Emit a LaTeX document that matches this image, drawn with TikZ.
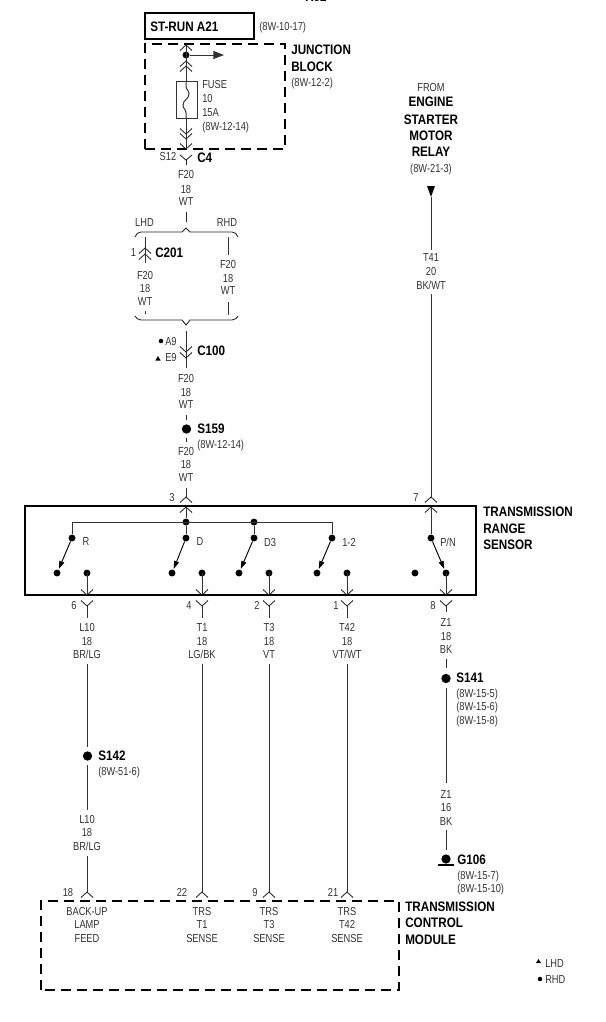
\documentclass[tikz,border=0pt]{standalone}
\usepackage{fontspec}
\setmainfont{Liberation Sans}
\newfontfamily\narrow[FakeStretch=0.8]{Liberation Sans}
\newfontfamily\narrowb[FakeStretch=0.85]{Liberation Sans Bold}
\usetikzlibrary{arrows.meta,shapes.geometric}
\tikzset{
  small/.style={inner sep=0pt,font=\narrow\fontsize{8.7pt}{9pt}\selectfont,text=black!80},
  smallc/.style={small,anchor=center,align=center},
  smallw/.style={small,anchor=west},
  big/.style={inner sep=0pt,anchor=west,font=\narrowb\fontsize{10.3pt}{11pt}\selectfont},
  wire/.style={line width=0.75pt,black!80},
  thin wire/.style={line width=0.65pt,black!85},
  chev/.style={line width=0.65pt,black!85},
  dashbox/.style={line width=1.5pt,dash pattern=on 7.5pt off 4.5pt},
  solidbox/.style={line width=1.5pt},
  pt/.style={circle,fill=black,inner sep=0pt,minimum size=5.2pt},
  bigpt/.style={circle,fill=black,inner sep=0pt,minimum size=7pt},
  sw/.style={line width=0.7pt,-{Triangle[length=6pt,width=3.8pt]},shorten >=0.5pt}
}
% chevrons: \upc{x}{y apex}, \dnc{x}{y apex}
\newcommand{\upc}[2]{\draw[chev] (#1-6,#2+5.5) -- (#1,#2) -- (#1+6,#2+5.5);}
\newcommand{\dnc}[2]{\draw[chev] (#1-6,#2-5.5) -- (#1,#2) -- (#1+6,#2-5.5);}
\newcommand{\tl}[4]{\node[smallc] (#1) at (#2,#3) {#4};}
\newcommand{\wl}[4]{\node[smallw] (#1) at (#2,#3) {#4};}
\newcommand{\bl}[4]{\node[big] (#1) at (#2,#3) {#4};}
\begin{document}
\begin{tikzpicture}[x=0.75pt,y=-0.75pt]
\useasboundingbox (0,0) rectangle (606,1022);
\fill[white] (0,0) rectangle (606,1022);

% Top clipped text
\begin{scope}
\clip (0,0) rectangle (606,1022);
\node[big,anchor=center] (topref) at (316,-3) {R02};
\end{scope}

% ---- ST-RUN / junction block
\node[draw,solidbox,minimum width=81.75pt,minimum height=19.5pt,inner sep=0pt] (strun) at (199.5,26) {};
\bl{struntxt}{150}{27}{ST-RUN A21}
\wl{strunref}{259}{27}{(8W-10-17)}
\draw[dashbox] (145,149) -- (145,44) -- (285,44) -- (285,149) -- cycle;
\bl{jb1}{291}{50}{JUNCTION}
\bl{jb2}{291}{67}{BLOCK}
\wl{jb3}{291}{83}{(8W-12-2)}

\coordinate (jtop) at (186,45);
\node[pt] (jdot) at (186,55) {};
\coordinate (jarrow) at (224,55);
\coordinate (jbot) at (186,149);
\node[draw,line width=0.6pt,black!80,minimum width=15.75pt,minimum height=27.75pt,inner sep=0pt] (fuse) at (186.5,99.5) {};
\draw[wire] (jtop) -- (186,81);
\draw[wire] (186,118) -- (jbot);
\draw[wire,-{Triangle[length=8pt,width=6pt]}] (jdot) -- (jarrow);
\draw[wire] (186,81) -- (186,86) .. controls (186,90) and (189,90) .. (189,94) .. controls (189,99) and (183,100) .. (183,105) .. controls (183,109) and (186,109) .. (186,113) -- (186,118);
\upc{186}{45}\upc{186}{61}\upc{186}{66}
\dnc{186}{134}\dnc{186}{139}\dnc{186}{149}
\wl{f1}{202}{85}{FUSE}\wl{f2}{202}{99}{10}\wl{f3}{202}{113}{15A}\wl{f4}{202}{127}{(8W-12-14)}

% C4
\coordinate (c4a) at (186,160);
\coordinate (c4b) at (186,165);
\draw[chev] (180,155) -- (c4a) -- (192,155);
\draw[chev] (c4a) -- (c4b);
\tl{s12}{168}{157}{S12}
\bl{c4}{197}{158}{C4}
\tl{w1a}{186}{175}{F20}\tl{w1b}{186}{189}{18}\tl{w1c}{186}{202}{WT}

% Brace top
\coordinate (w1t) at (186,212);
\coordinate (brt) at (186,228);
\draw[thin wire] (w1t) -- (186,222);
\draw[thin wire] (135,237) .. controls (136,234) and (138,232) .. (141,232) -- (182,232) -- (brt) -- (190,232) -- (232,232) .. controls (235,232) and (237,234) .. (238,237);
\tl{lhd}{144.5}{223}{LHD}\tl{rhd}{227}{223}{RHD}

% LHD branch
\coordinate (la) at (145,237);
\coordinate (lb) at (145,263);
\draw[wire] (la) -- (lb);
\upc{145}{248}\upc{145}{254}
\tl{c1n}{133.5}{253}{1}
\bl{c201}{155}{253}{C201}
\tl{w2a}{145}{275}{F20}\tl{w2b}{145}{288}{18}\tl{w2c}{145}{302}{WT}
\coordinate (lc) at (145,311);
\coordinate (ld) at (145,314);
\draw[wire] (lc) -- (ld);

% RHD branch
\coordinate (ra) at (228,237);
\coordinate (rb) at (228,255);
\coordinate (rc) at (228,302);
\coordinate (rd) at (228,315);
\draw[wire] (ra) -- (rb);
\draw[wire] (rc) -- (rd);
\tl{w3a}{228}{264}{F20}\tl{w3b}{228}{278}{18}\tl{w3c}{228}{291}{WT}

% Brace bottom
\draw[thin wire] (135,316) .. controls (136,318) and (138,320) .. (141,320) -- (182,320) -- (186,325) -- (190,320) -- (232,320) .. controls (235,320) and (237,318) .. (238,316);

% C100
\coordinate (c1a) at (186,331);
\coordinate (c1b) at (186,368);
\draw[wire] (c1a) -- (c1b);
\dnc{186}{352}\dnc{186}{358}
\node[circle,fill=black,inner sep=0pt,minimum size=3.4pt] (a9d) at (161,341) {};
\wl{a9}{165}{341}{A9}
\node[regular polygon,regular polygon sides=3,fill=black,inner sep=0pt,minimum size=4.5pt] (e9d) at (158,359) {};
\wl{e9}{165}{357}{E9}
\bl{c100}{197}{351}{C100}
\tl{w4a}{186}{378}{F20}\tl{w4b}{186}{392}{18}\tl{w4c}{186}{405}{WT}

% S159
\node[bigpt] (s159) at (186.5,429) {};
\coordinate (s1a) at (186.5,415);
\coordinate (s1b) at (186.5,442);
\draw[wire] (s1a) -- (186.5,420);
\draw[wire] (186.5,438) -- (s1b);
\bl{s159t}{197}{429}{S159}
\wl{s159r}{197}{445}{(8W-12-14)}
\tl{w5a}{186}{451}{F20}\tl{w5b}{186}{464}{18}\tl{w5c}{186}{478}{WT}

% Right feed
\tl{from}{431}{88}{FROM}
\node[big,anchor=center] (eng) at (431,102) {ENGINE};
\node[big,anchor=center] (sta) at (431,120) {STARTER};
\node[big,anchor=center] (mot) at (431,136) {MOTOR};
\node[big,anchor=center] (rel) at (431,152) {RELAY};
\tl{fromr}{431}{169}{(8W-21-3)}
\coordinate (ftop) at (431,186);
\coordinate (fmid) at (431,197);
\coordinate (fa) at (431,250);
\coordinate (fb) at (431,294);
\coordinate (fc) at (431,497);
\fill[black] (427,186) -- (435,186) -- (431,197) -- cycle;
\draw[wire] (fmid) -- (fa);
\draw[wire] (fb) -- (fc);
\tl{w6a}{431}{258}{T41}\tl{w6b}{431}{271}{20}\tl{w6c}{431}{285}{BK/WT}

% Sensor connectors above
\coordinate (in3) at (186,497);
\draw[wire] (186,488) -- (in3);
\upc{186}{497}\upc{186}{507}
\tl{n3}{172}{497}{3}
\upc{431}{497}\upc{431}{507}
\tl{n7}{416}{497}{7}

% TRS box
\node[draw,solidbox,minimum width=338.5pt,minimum height=66.5pt,inner sep=0pt] (trs) at (250.8,550.8) {};
\bl{t1}{483}{512}{TRANSMISSION}\bl{t2}{483}{529}{RANGE}\bl{t3}{483}{545}{SENSOR}

% Switches
\node[pt] (j1) at (186,522) {};
\node[pt] (j2) at (254,522) {};
\node[pt] (rt) at (72,538) {};
\node[pt] (dt) at (186,538) {};
\node[pt] (d3t) at (254,538) {};
\node[pt] (ot) at (332,538) {};
\node[pt] (pt5) at (431,538) {};
\node[pt] (rl) at (57,573) {};   \node[pt] (rr) at (87,573) {};
\node[pt] (dl) at (172,573) {};  \node[pt] (dr) at (202,573) {};
\node[pt] (d3l) at (239,573) {}; \node[pt] (d3r) at (269,573) {};
\node[pt] (ol) at (317,573) {};  \node[pt] (or) at (347,573) {};
\node[pt] (pl) at (415,573) {};  \node[pt] (pr) at (446,573) {};
\draw[wire] (186,507) -- (j1) -- (dt);
\draw[wire] (rt) -- (72,522) -- (332,522) -- (ot);
\draw[wire] (j2) -- (d3t);
\draw[wire] (431,507) -- (pt5);
\draw[sw] (rt) -- (rl);
\draw[sw] (dt) -- (dl);
\draw[sw] (d3t) -- (d3l);
\draw[sw] (ot) -- (ol);
\draw[sw] (pt5) -- (pr);
\tl{lr}{86}{542}{R}\tl{ld2}{200}{542}{D}\tl{ld3}{270}{542}{D3}\tl{l12}{349}{542}{1-2}\tl{lpn}{448}{542}{P/N}

% Output connectors and wires
\coordinate (o1) at (87,606);   \coordinate (o1e) at (87,618);
\coordinate (o2) at (202,606);  \coordinate (o2e) at (202,618);
\coordinate (o3) at (269,606);  \coordinate (o3e) at (269,618);
\coordinate (o4) at (347,606);  \coordinate (o4e) at (347,618);
\coordinate (o5) at (446,606);  \coordinate (o5e) at (446,612);
\foreach \x in {87,202,269,347,446}{
  \draw[wire] (\x,573) -- (\x,595);
  \dnc{\x}{595}\dnc{\x}{606}
}
\draw[wire] (o1) -- (o1e); \draw[wire] (o2) -- (o2e);
\draw[wire] (o3) -- (o3e); \draw[wire] (o4) -- (o4e);
\draw[wire] (o5) -- (o5e);
\tl{n6}{74}{605}{6}\tl{n4}{189}{605}{4}\tl{n2}{257}{605}{2}\tl{n1}{336}{605}{1}\tl{n8}{433}{605}{8}
\tl{x1a}{87}{627}{L10}\tl{x1b}{87}{641}{18}\tl{x1c}{87}{654}{BR/LG}
\tl{x2a}{202}{627}{T1}\tl{x2b}{202}{641}{18}\tl{x2c}{202}{654}{LG/BK}
\tl{x3a}{269}{627}{T3}\tl{x3b}{269}{641}{18}\tl{x3c}{269}{654}{VT}
\tl{x4a}{347}{627}{T42}\tl{x4b}{347}{641}{18}\tl{x4c}{347}{654}{VT/WT}
\tl{x5a}{446}{622}{Z1}\tl{x5b}{446}{636}{18}\tl{x5c}{446}{649}{BK}

% L10 run
\node[bigpt] (s142) at (87.5,756) {};
\coordinate (l1a) at (87.5,664);
\coordinate (l1a2) at (87.5,747);
\coordinate (l1b2) at (87.5,765);
\coordinate (l1b) at (87.5,810);
\coordinate (l1c) at (87.5,856);
\coordinate (l1d) at (87.5,892);
\draw[wire] (l1a) -- (l1a2);
\draw[wire] (l1b2) -- (l1b);
\draw[wire] (l1c) -- (l1d);
\bl{s142t}{98}{756}{S142}
\wl{s142r}{98}{772}{(8W-51-6)}
\tl{y1a}{87}{819}{L10}\tl{y1b}{87}{832}{18}\tl{y1c}{87}{846}{BR/LG}

% Other wires
\coordinate (t1a) at (202,664); \coordinate (t1b) at (202,892);
\coordinate (t3a) at (269,664); \coordinate (t3b) at (269,892);
\coordinate (t4a) at (347,664); \coordinate (t4b) at (347,892);
\draw[wire] (t1a) -- (t1b);
\draw[wire] (t3a) -- (t3b);
\draw[wire] (t4a) -- (t4b);

% Z1 run
\node[bigpt] (s141) at (446,678.5) {};
\coordinate (z1a) at (446,659);
\coordinate (z1a2) at (446,668);
\coordinate (z1b2) at (446,688);
\coordinate (z1b) at (446,783);
\coordinate (z1c) at (446,830);
\coordinate (z1d) at (446,850);
\node[bigpt] (g106) at (446,859) {};
\draw[wire] (z1a) -- (z1a2);
\draw[wire] (z1b2) -- (z1b);
\draw[wire] (z1c) -- (z1d);
\draw[line width=1.2pt] (438,865) -- (454,865);
\bl{s141t}{456}{678}{S141}
\wl{s141a}{456}{694}{(8W-15-5)}\wl{s141b}{456}{707}{(8W-15-6)}\wl{s141c}{456}{721}{(8W-15-8)}
\tl{z2a}{446}{794}{Z1}\tl{z2b}{446}{807}{16}\tl{z2c}{446}{821}{BK}
\bl{g106t}{457}{860}{G106}
\wl{g1}{457}{876}{(8W-15-7)}\wl{g2}{457}{889}{(8W-15-10)}

% TCM
\draw[dashbox] (41,990) -- (41,901) -- (399,901) -- (399,990) -- cycle;
\foreach \x in {87,202,269,347}{ \upc{\x}{892} }
\tl{m18}{68}{892}{18}\tl{m22}{182}{892}{22}\tl{m9}{255}{892}{9}\tl{m21}{333}{892}{21}
\tl{b1a}{87}{911}{BACK-UP}\tl{b1b}{87}{924}{LAMP}\tl{b1c}{87}{938}{FEED}
\tl{b2a}{202}{911}{TRS}\tl{b2b}{202}{924}{T1}\tl{b2c}{202}{938}{SENSE}
\tl{b3a}{269}{911}{TRS}\tl{b3b}{269}{924}{T3}\tl{b3c}{269}{938}{SENSE}
\tl{b4a}{347}{911}{TRS}\tl{b4b}{347}{924}{T42}\tl{b4c}{347}{938}{SENSE}
\bl{c1}{405}{907}{TRANSMISSION}\bl{c2}{405}{923}{CONTROL}\bl{c3}{405}{940}{MODULE}

% Legend
\fill[black] (536,963) -- (541,963) -- (538.5,959) -- cycle;
\node[circle,fill=black,inner sep=0pt,minimum size=3.4pt] (legd) at (540,979) {};
\wl{leg1}{545}{963}{LHD}
\wl{leg2}{545}{979}{RHD}
\end{tikzpicture}
\end{document}
